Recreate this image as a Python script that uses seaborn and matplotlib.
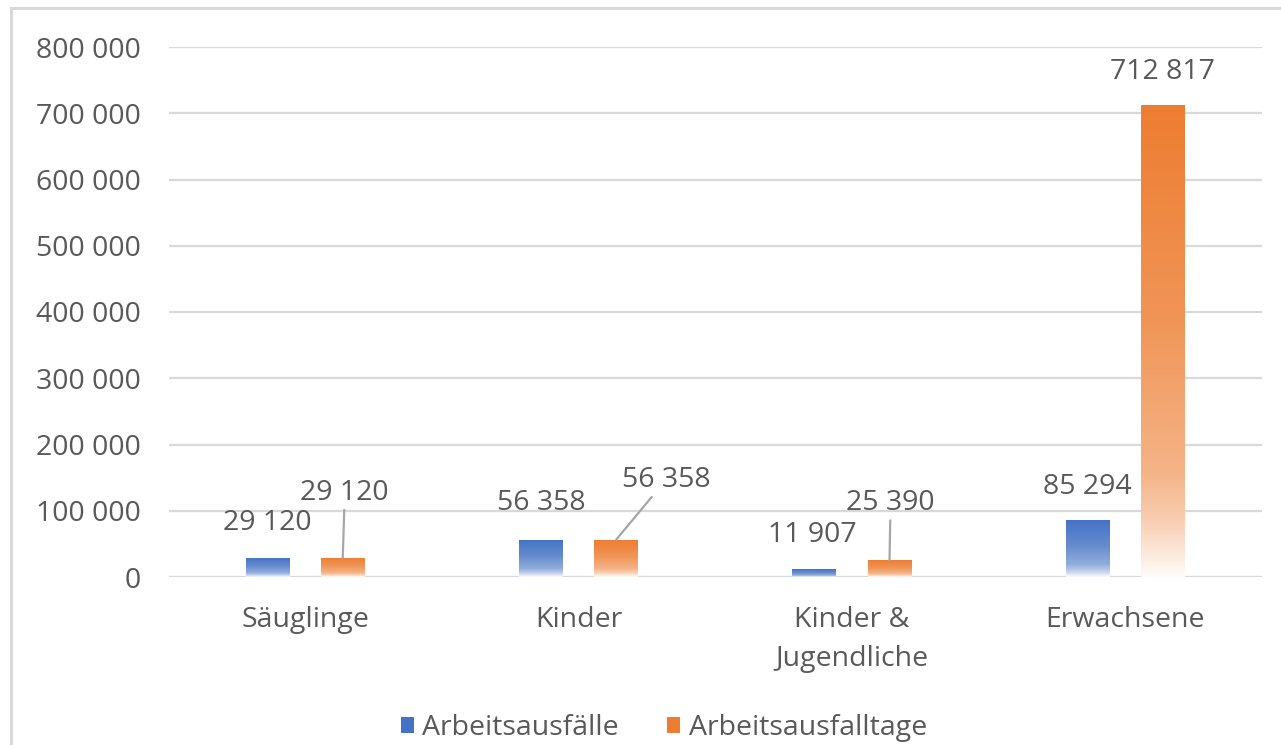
import numpy as np
import pandas as pd
import matplotlib
matplotlib.use("Agg")
import matplotlib.pyplot as plt
from matplotlib.colors import to_rgb
from matplotlib.patches import Patch, Rectangle
import seaborn as sns

# ---- data ----
categories = ["Säuglinge", "Kinder", "Kinder &\nJugendliche", "Erwachsene"]
series_names = ["Arbeitsausfälle", "Arbeitsausfalltage"]
arbeitsausfaelle = [29120, 56358, 11907, 85294]
arbeitsausfalltage = [29120, 56358, 25390, 712817]
y_ticks = [0, 100000, 200000, 300000, 400000, 500000, 600000, 700000, 800000]

colors = ["#4472C4", "#ED7D31"]
text_color = "#595959"
grid_color = "#D9D9D9"

sns.set_theme(style="white")
plt.rcParams["font.family"] = ["Open Sans", "DejaVu Sans"]

df = pd.DataFrame({
    "Kategorie": categories * 2,
    "Serie": [series_names[0]] * 4 + [series_names[1]] * 4,
    "Wert": arbeitsausfaelle + arbeitsausfalltage,
})

W, H = 1281, 745
fig = plt.figure(figsize=(W / 100, H / 100), dpi=100)
ax = fig.add_axes([168.5 / W, (H - 577) / H, (1262 - 168.5) / W, (577 - 47) / H])

sns.barplot(data=df, x="Kategorie", y="Wert", hue="Serie", hue_order=series_names,
            palette=colors, width=0.55, gap=0.415, legend=False, ax=ax,
            saturation=1, linewidth=0, errorbar=None)

ax.set_ylim(0, 800000)
ax.set_xlim(-0.5, len(categories) - 0.5)
ax.set_yticks(y_ticks)
ax.set_yticklabels([f"{v:,}".replace(",", " ") for v in y_ticks])
ax.set_xlabel("")
ax.set_ylabel("")
ax.tick_params(axis="y", length=0, pad=20, labelsize=20.5, labelcolor=text_color)
ax.tick_params(axis="x", length=0, pad=21, labelsize=20.5, labelcolor=text_color)
for lbl in ax.get_xticklabels():
    lbl.set_linespacing(1.5)
for s in ax.spines.values():
    s.set_visible(False)
ax.yaxis.grid(True, color=grid_color, linewidth=1.6)
ax.set_axisbelow(True)
ax.axhline(0, color=grid_color, linewidth=2.2, zorder=1)

# ---- gradient fill ----
def gradient_img(c):
    c = np.array(to_rgb(c))
    wht = np.ones(3)
    stops = [(0.0, 0.0), (0.45, 0.18), (0.78, 0.42), (0.88, 0.62), (1.0, 0.97)]
    t = np.linspace(0, 1, 256)
    mix = np.interp(t, [s[0] for s in stops], [s[1] for s in stops])
    rgb = c[None, :] * (1 - mix[:, None]) + wht[None, :] * mix[:, None]
    return rgb[:, None, :]

for ci, cont in enumerate(ax.containers):
    img = gradient_img(colors[ci])
    for p in cont.patches:
        x0, w, h = p.get_x(), p.get_width(), p.get_height()
        im = ax.imshow(img, extent=[x0, x0 + w, 0, h], aspect="auto",
                       origin="upper", zorder=2, interpolation="bilinear")
        im.set_clip_path(p)
        p.set_facecolor("none")

ax.set_xlim(-0.5, len(categories) - 0.5)
ax.set_ylim(0, 800000)

# ---- data labels (offsets in pixels: dx, dy, leader line) ----
px = 72 / 100
label_offsets = {
    (0, 0): (0, 35, False), (0, 1): (2, 65, True),
    (1, 0): (0, 37, False), (1, 1): (50, 60, True),
    (2, 0): (-2, 34, False), (2, 1): (1, 57, True),
    (3, 0): (0, 33, False), (3, 1): (0, 33, False),
}
for ci, cont in enumerate(ax.containers):
    for i, p in enumerate(cont.patches):
        val = p.get_height()
        xc = p.get_x() + p.get_width() / 2
        dx, dy, leader = label_offsets[(i, ci)]
        kw = {}
        if leader:
            kw["arrowprops"] = dict(arrowstyle="-", color="#A6A6A6", lw=1.6,
                                    shrinkA=0, shrinkB=0)
        ax.annotate(f"{int(round(val)):,}".replace(",", " "), xy=(xc, val),
                    xytext=(dx * px, dy * px), textcoords="offset points",
                    ha="center", va="center", fontsize=20.5, color=text_color,
                    annotation_clip=False, **kw)

# ---- legend ----
handles = [Patch(facecolor=c, edgecolor="none") for c in colors]
fig.legend(handles, series_names, loc="center", bbox_to_anchor=(664 / W, (H - 728) / H),
           ncol=2, frameon=False, fontsize=20.5, labelcolor=text_color,
           handlelength=0.45, handleheight=0.45, handletextpad=0.3, columnspacing=1.7)

# ---- chart frame ----
fig.patches.append(Rectangle((10.5 / W, -0.05), 1.1, (H - 7.5) / H + 0.05,
                             transform=fig.transFigure, fill=False,
                             edgecolor="#D9D9D9", linewidth=2.2))

fig.savefig("out.png", dpi=100, facecolor="white")
